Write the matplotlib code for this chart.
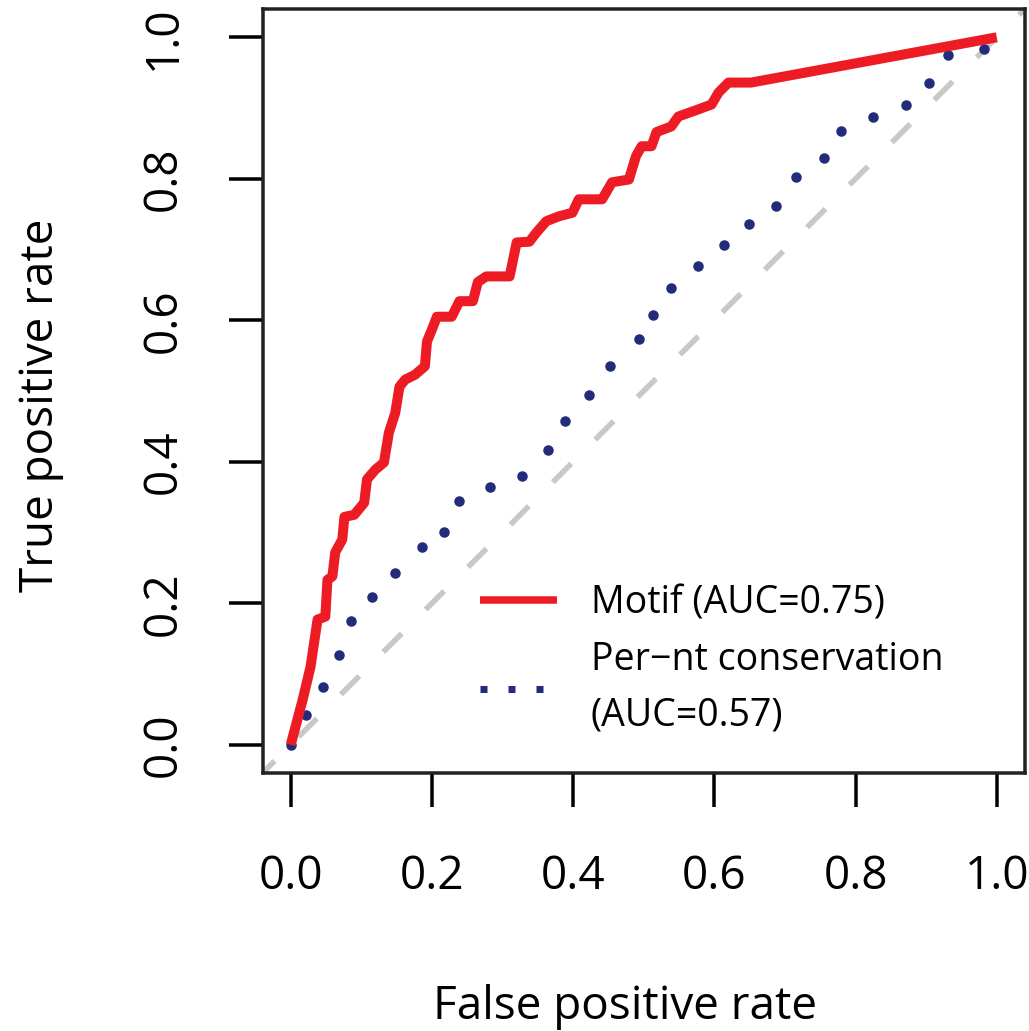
import matplotlib
matplotlib.use("Agg")
import matplotlib.pyplot as plt
from matplotlib.lines import Line2D

plt.rcParams['font.family'] = ['Open Sans', 'DejaVu Sans']
plt.rcParams['lines.scale_dashes'] = False

# Motif ROC curve (red)
motif_fpr = [0.0, 0.017, 0.028, 0.038, 0.049, 0.052, 0.059, 0.063, 0.073, 0.076,
             0.090, 0.104, 0.108, 0.120, 0.132, 0.139, 0.148, 0.154, 0.162, 0.176,
             0.190, 0.193, 0.200, 0.207, 0.228, 0.239, 0.258, 0.265, 0.277, 0.310,
             0.320, 0.338, 0.348, 0.362, 0.380, 0.399, 0.408, 0.441, 0.455, 0.479,
             0.489, 0.497, 0.511, 0.518, 0.539, 0.549, 0.577, 0.596, 0.606, 0.620,
             0.652, 1.0]
motif_tpr = [0.0, 0.064, 0.110, 0.177, 0.181, 0.233, 0.238, 0.272, 0.290, 0.322,
             0.325, 0.342, 0.375, 0.389, 0.399, 0.441, 0.469, 0.506, 0.516, 0.523,
             0.535, 0.570, 0.587, 0.605, 0.605, 0.627, 0.627, 0.654, 0.662, 0.662,
             0.710, 0.711, 0.724, 0.740, 0.747, 0.752, 0.771, 0.771, 0.795, 0.799,
             0.832, 0.846, 0.846, 0.866, 0.874, 0.888, 0.898, 0.905, 0.922, 0.936,
             0.936, 1.0]

# Per-nt conservation ROC curve (dotted, navy)
cons_fpr = [0.0, 0.021, 0.045, 0.068, 0.085, 0.115, 0.148, 0.186, 0.217, 0.239,
            0.282, 0.327, 0.365, 0.389, 0.423, 0.452, 0.493, 0.513, 0.539, 0.577,
            0.613, 0.649, 0.687, 0.715, 0.755, 0.780, 0.825, 0.872, 0.904, 0.931,
            0.982]
cons_tpr = [0.0, 0.042, 0.082, 0.127, 0.175, 0.209, 0.243, 0.279, 0.301, 0.345,
            0.365, 0.380, 0.416, 0.457, 0.495, 0.535, 0.573, 0.607, 0.646, 0.676,
            0.707, 0.736, 0.762, 0.802, 0.829, 0.867, 0.887, 0.904, 0.936, 0.975,
            0.984]

diag = [-0.04, 1.04]
ticks = [0.0, 0.2, 0.4, 0.6, 0.8, 1.0]
tick_labels = ["0.0", "0.2", "0.4", "0.6", "0.8", "1.0"]
labels = ["Motif (AUC=0.75)", "Per\u2212nt conservation\n(AUC=0.57)"]

RED = "#ED1C24"
NAVY = "#232B7B"
GRAY = "#C8C8C8"

W, H = 1029, 1031
fig = plt.figure(figsize=(W / 100, H / 100), dpi=100)
ax = fig.add_axes([262.5 / W, (H - 773) / H, (1025 - 262.5) / W, (773 - 9) / H])
ax.set_xlim(-0.04, 1.04)
ax.set_ylim(-0.04, 1.04)

px = 72 / 100  # points per pixel

ax.plot(diag, diag, color=GRAY, lw=5.5 * px, solid_capstyle='butt',
        dash_capstyle='butt', linestyle=(9 * px, (26 * px, 34 * px)), zorder=1)
ax.plot(motif_fpr, motif_tpr, color=RED, lw=10 * px, solid_joinstyle='round',
        solid_capstyle='butt', zorder=3)
ax.plot(cons_fpr, cons_tpr, linestyle='none', marker='o', markersize=10.5 * px,
        markeredgewidth=0, color=NAVY, zorder=2)

ax.set_xticks(ticks)
ax.set_xticklabels(tick_labels)
ax.set_yticks(ticks)
ax.set_yticklabels(tick_labels)
ax.tick_params(axis='both', length=34 * px, width=3.5 * px, direction='out',
               labelsize=33, colors='black')
ax.tick_params(axis='x', pad=34)
ax.tick_params(axis='y', pad=30)
for lab in ax.get_yticklabels():
    lab.set_rotation(90)
    lab.set_va('center')
for sp in ax.spines.values():
    sp.set_linewidth(3.5 * px)
    sp.set_color('#222222')

fig.text(625 / W, (H - 1019) / H, "False positive rate", ha='center',
         va='baseline', fontsize=33)
fig.text(53 / W, (H - 405) / H, "True positive rate", ha='center',
         va='baseline', rotation=90, fontsize=33, rotation_mode='anchor')

handles = [Line2D([], [], color=RED, lw=7.5 * px, solid_capstyle='butt'),
           Line2D([], [], color=NAVY, lw=7 * px, dash_capstyle='butt',
                  linestyle=(0, (7 * px, 21 * px)))]
leg = ax.legend(handles, labels, loc='upper left', bbox_to_anchor=(0.285, 0.247),
                frameon=False, fontsize=27, handlelength=2.06, handletextpad=0.9,
                borderpad=0, borderaxespad=0, labelspacing=0.5)
for t in leg.get_texts():
    t.set_linespacing(1.6)

fig.savefig("out.png", dpi=100)
